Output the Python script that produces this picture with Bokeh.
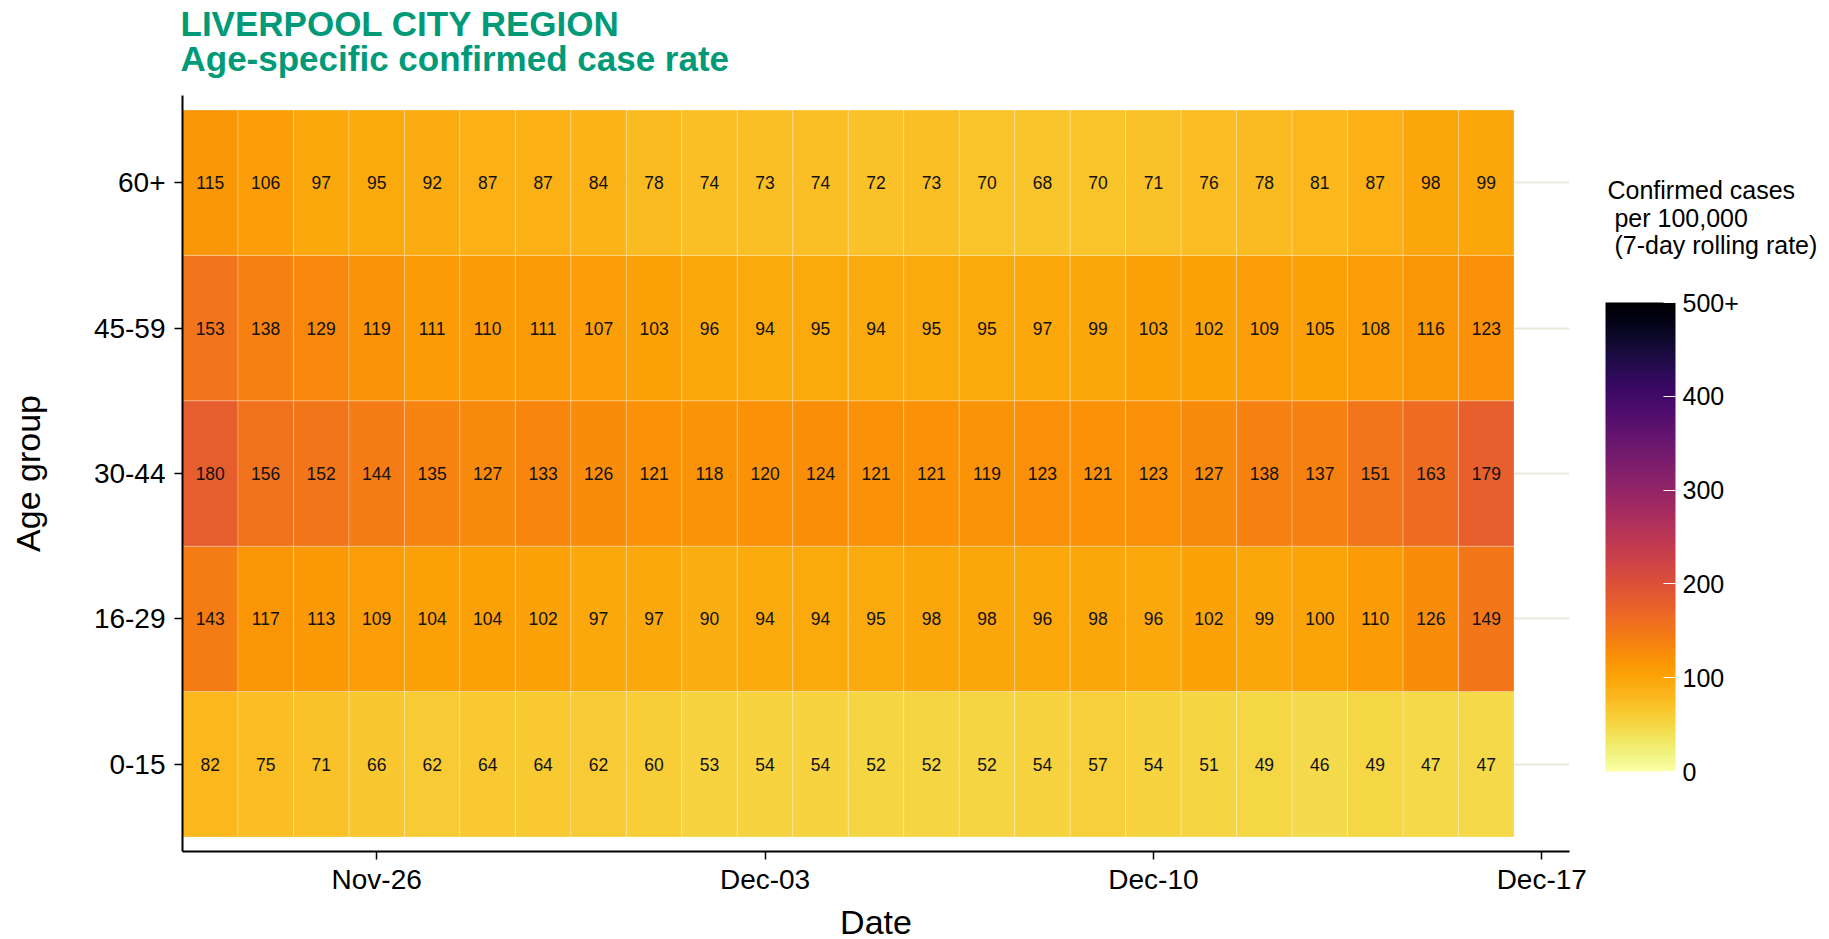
from datetime import datetime
from bokeh.plotting import figure
from bokeh.models import (ColumnDataSource, LinearColorMapper, ColorBar, FixedTicker,
                          Range1d, FactorRange, Label)
from bokeh.palettes import Inferno256
from bokeh.transform import transform
from bokeh.core.properties import value
from bokeh.embed import file_html
from bokeh.resources import INLINE

# ---------------- data ----------------
dates = ["2020-11-23", "2020-11-24", "2020-11-25", "2020-11-26", "2020-11-27", "2020-11-28",
         "2020-11-29", "2020-11-30", "2020-12-01", "2020-12-02", "2020-12-03", "2020-12-04",
         "2020-12-05", "2020-12-06", "2020-12-07", "2020-12-08", "2020-12-09", "2020-12-10",
         "2020-12-11", "2020-12-12", "2020-12-13", "2020-12-14", "2020-12-15", "2020-12-16"]

age_groups = ["0-15", "16-29", "30-44", "45-59", "60+"]

rate_0_15 = [82, 75, 71, 66, 62, 64, 64, 62, 60, 53, 54, 54, 52, 52, 52, 54, 57, 54, 51, 49, 46, 49, 47, 47]
rate_16_29 = [143, 117, 113, 109, 104, 104, 102, 97, 97, 90, 94, 94, 95, 98, 98, 96, 98, 96, 102, 99, 100, 110, 126, 149]
rate_30_44 = [180, 156, 152, 144, 135, 127, 133, 126, 121, 118, 120, 124, 121, 121, 119, 123, 121, 123, 127, 138, 137, 151, 163, 179]
rate_45_59 = [153, 138, 129, 119, 111, 110, 111, 107, 103, 96, 94, 95, 94, 95, 95, 97, 99, 103, 102, 109, 105, 108, 116, 123]
rate_60_plus = [115, 106, 97, 95, 92, 87, 87, 84, 78, 74, 73, 74, 72, 73, 70, 68, 70, 71, 76, 78, 81, 87, 98, 99]

x_tick_dates = ["2020-11-26", "2020-12-03", "2020-12-10", "2020-12-17"]
x_tick_labels = ["Nov-26", "Dec-03", "Dec-10", "Dec-17"]

colorbar_ticks = [0, 100, 200, 300, 400, 500]
colorbar_labels = ["0", "100", "200", "300", "400", "500+"]

x_start = "2020-11-22 12:00"
x_end = "2020-12-17 12:00"

title_lines = ["LIVERPOOL CITY REGION", "Age-specific confirmed case rate"]
legend_title = "Confirmed cases\n\u00a0per 100,000\n\u00a0(7-day rolling rate)"

# ---------------- build ----------------
FONT = "Liberation Sans"
GREEN = "#009a78"
DAY_MS = 86400000
EPOCH = datetime(1970, 1, 1)
FRAME_W, FRAME_H = 1387, 756
BORDER_L, BORDER_T = 182, 95
W, H = 1829, 939
FRAME_R, FRAME_B = BORDER_L + FRAME_W, BORDER_T + FRAME_H


def to_ms(s, fmt="%Y-%m-%d"):
    return (datetime.strptime(s, fmt) - EPOCH).total_seconds() * 1000.0


series = [rate_0_15, rate_16_29, rate_30_44, rate_45_59, rate_60_plus]
xs, ys, vals = [], [], []
for g, s in zip(age_groups, series):
    for d, v in zip(dates, s):
        xs.append(to_ms(d))
        ys.append(g)
        vals.append(v)
src = ColumnDataSource(dict(x=xs, y=ys, v=vals, label=[str(v) for v in vals]))

mapper = LinearColorMapper(palette=list(reversed(Inferno256)), low=0, high=500,
                           high_color=Inferno256[0], low_color=Inferno256[-1])

p = figure(x_axis_type="datetime",
           x_range=Range1d(to_ms(x_start, "%Y-%m-%d %H:%M"), to_ms(x_end, "%Y-%m-%d %H:%M")),
           y_range=FactorRange(factors=age_groups, range_padding=0.1, range_padding_units="absolute"),
           frame_width=FRAME_W, frame_height=FRAME_H,
           min_border_left=BORDER_L, min_border_right=W - FRAME_R,
           min_border_top=BORDER_T, min_border_bottom=H - FRAME_B,
           output_backend="svg", toolbar_location=None, title=None,
           background_fill_color="white", border_fill_color="white", outline_line_color=None)

p.rect(x="x", y="y", width=DAY_MS, height=1, source=src,
       fill_color=transform("v", mapper), line_color="white", line_alpha=0.25, line_width=1)
p.text(x="x", y="y", text="label", source=src, text_align="center", text_baseline="middle",
       text_font_size="17.5px", text_font=value(FONT), text_color="#111111")

# grid
p.xgrid.visible = False
p.ygrid.grid_line_color = "#e8eadb"
p.ygrid.grid_line_width = 2

# axes
for ax in (p.xaxis[0], p.yaxis[0]):
    ax.axis_line_color = "black"
    ax.axis_line_width = 2
    ax.major_tick_line_color = "black"
    ax.major_tick_line_width = 1.5
    ax.major_tick_out = 8
    ax.major_tick_in = 0
    ax.minor_tick_line_color = None
    ax.major_label_text_font = FONT
    ax.major_label_text_font_size = "28px"
    ax.major_label_text_color = "black"
    ax.axis_label_text_font = FONT
    ax.axis_label_text_font_size = "34px"
    ax.axis_label_text_font_style = "normal"
    ax.axis_label_text_color = "black"

tick_ms = [to_ms(d) for d in x_tick_dates]
p.xaxis[0].ticker = FixedTicker(ticks=tick_ms)
p.xaxis[0].major_label_overrides = {t: lab for t, lab in zip(tick_ms, x_tick_labels)}
p.xaxis[0].axis_label = "Date"
p.xaxis[0].major_label_standoff = 4
p.xaxis[0].axis_label_standoff = 5

p.yaxis[0].axis_label = "Age group"
p.yaxis[0].major_label_standoff = 9
p.yaxis[0].axis_label_standoff = 44

# title: two labels stacked in the panel above the frame (offsets calibrated to that stacking)
for txt, y_off in zip(title_lines, [72, -2]):
    p.add_layout(Label(x=-2, y=y_off, x_units="screen", y_units="screen",
                       text=txt, text_font=FONT, text_font_size="35px", text_font_style="bold",
                       text_color=GREEN, text_align="left", text_baseline="alphabetic"), "above")

# legend title: one multi-line label in the panel right of the frame (y upward from frame bottom)
p.add_layout(Label(x=1607 - FRAME_R, y=FRAME_B - 175.5, x_units="screen", y_units="screen",
                   text=legend_title, text_font=FONT, text_font_size="25px",
                   text_font_style="normal", text_line_height=0.99,
                   text_color="black", text_align="left", text_baseline="top"), "right")

# colour bar, drawn to the right of the frame
cb = ColorBar(color_mapper=mapper,
              ticker=FixedTicker(ticks=colorbar_ticks),
              major_label_overrides={t: lab for t, lab in zip(colorbar_ticks, colorbar_labels)},
              width=70, height=469, location=(1605 - BORDER_L, 80), padding=0, margin=0,
              major_label_text_font=FONT, major_label_text_font_size="25px",
              major_label_text_color="black", label_standoff=7,
              major_tick_line_color="white", major_tick_line_width=1, major_tick_in=12, major_tick_out=0,
              minor_tick_line_color=None,
              bar_line_color=None, border_line_color=None, background_fill_color=None)
p.add_layout(cb, "center")

open("out.html", "w").write(file_html(p, INLINE))
